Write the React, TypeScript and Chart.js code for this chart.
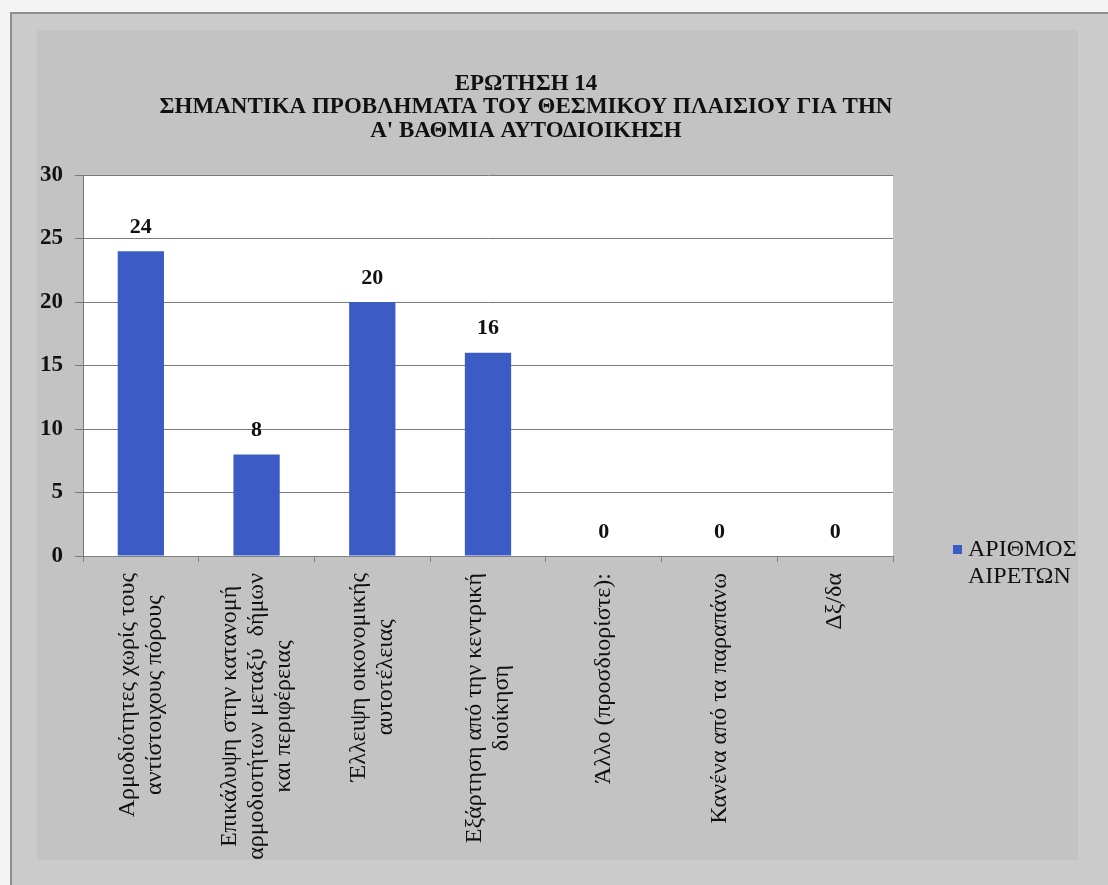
import React, { useEffect, useRef } from "react";
import { Chart, registerables } from "chart.js";

Chart.register(...registerables);

const titleLines = [
  "ΕΡΩΤΗΣΗ 14",
  "ΣΗΜΑΝΤΙΚΑ ΠΡΟΒΛΗΜΑΤΑ ΤΟΥ ΘΕΣΜΙΚΟΥ ΠΛΑΙΣΙΟΥ ΓΙΑ ΤΗΝ",
  "Α' ΒΑΘΜΙΑ ΑΥΤΟΔΙΟΙΚΗΣΗ",
];

const categories: string[][] = [
  ["Αρμοδιότητες χωρίς τους", "αντίστοιχους πόρους"],
  ["Επικάλυψη στην κατανομή", "αρμοδιοτήτων μεταξύ  δήμων", "και περιφέρειας"],
  ["Έλλειψη οικονομικής", "αυτοτέλειας"],
  ["Εξάρτηση από την κεντρική", "διοίκηση"],
  ["Άλλο (προσδιορίστε):"],
  ["Κανένα από τα παραπάνω"],
  ["Δξ/δα"],
];

const seriesNameLines = ["ΑΡΙΘΜΟΣ", "ΑΙΡΕΤΩΝ"];
const values = [24, 8, 20, 16, 0, 0, 0];

const yMin = 0;
const yMax = 30;
const yStep = 5;

const W = 1108;
const H = 885;
const FONT = "'Liberation Serif', 'Times New Roman', serif";
const BAR_COLOR = "#3b5cc5";

const backgroundPlugin = {
  id: "bg",
  beforeDraw(chart: any) {
    const { ctx, chartArea } = chart;
    ctx.save();
    ctx.fillStyle = "#f4f4f4";
    ctx.fillRect(0, 0, W, H);
    ctx.fillStyle = "#cbcbcb";
    ctx.fillRect(11, 13, W - 11, H - 13);
    ctx.fillStyle = "#c3c3c3";
    ctx.fillRect(37, 30, 1078 - 37, 860 - 30);
    ctx.strokeStyle = "#8e8e8e";
    ctx.lineWidth = 2;
    ctx.beginPath();
    ctx.moveTo(11, H);
    ctx.lineTo(11, 13);
    ctx.lineTo(W, 13);
    ctx.stroke();
    ctx.fillStyle = "#ffffff";
    ctx.fillRect(
      chartArea.left,
      chartArea.top,
      chartArea.right - chartArea.left,
      chartArea.bottom - chartArea.top
    );
    ctx.restore();
  },
};

const titlePlugin = {
  id: "customTitle",
  afterDraw(chart: any) {
    const { ctx } = chart;
    ctx.save();
    ctx.font = `bold 23px ${FONT}`;
    ctx.fillStyle = "#111";
    ctx.textAlign = "center";
    ctx.textBaseline = "middle";
    titleLines.forEach((line, j) => {
      ctx.fillText(line, 526, 84 + j * 23.5);
    });
    ctx.restore();
  },
};

const valueLabelPlugin = {
  id: "valueLabels",
  afterDatasetsDraw(chart: any) {
    const { ctx } = chart;
    const meta = chart.getDatasetMeta(0);
    ctx.save();
    ctx.font = `bold 22px ${FONT}`;
    ctx.fillStyle = "#111";
    ctx.textAlign = "center";
    ctx.textBaseline = "middle";
    meta.data.forEach((bar: any, i: number) => {
      ctx.fillText(String(values[i]), bar.x, bar.y - 24);
    });
    ctx.restore();
  },
};

const xLabelPlugin = {
  id: "xLabels",
  afterDraw(chart: any) {
    const { ctx, chartArea } = chart;
    const xScale = chart.scales.x;
    const lineH = 27;
    ctx.save();
    ctx.font = `24px ${FONT}`;
    ctx.fillStyle = "#111";
    ctx.textAlign = "center";
    ctx.textBaseline = "middle";
    categories.forEach((lines, i) => {
      const cx = xScale.getPixelForValue(i);
      const top = chartArea.bottom + 17;
      const maxW = Math.max(...lines.map((l) => ctx.measureText(l).width));
      ctx.save();
      ctx.translate(cx, top);
      ctx.rotate(-Math.PI / 2);
      lines.forEach((line, j) => {
        const v = (j - (lines.length - 1) / 2) * lineH;
        ctx.fillText(line, -maxW / 2, v);
      });
      ctx.restore();
    });
    ctx.restore();
  },
};

const legendPlugin = {
  id: "customLegend",
  afterDraw(chart: any) {
    const { ctx } = chart;
    ctx.save();
    ctx.fillStyle = BAR_COLOR;
    ctx.fillRect(953, 545, 9, 9);
    ctx.font = `24px ${FONT}`;
    ctx.fillStyle = "#111";
    ctx.textAlign = "left";
    ctx.textBaseline = "middle";
    seriesNameLines.forEach((line, j) => {
      ctx.fillText(line, 968, 550 + j * 27);
    });
    ctx.restore();
  },
};

export default function App() {
  const ref = useRef<HTMLCanvasElement | null>(null);

  useEffect(() => {
    if (!ref.current) return;
    const chart = new Chart(ref.current, {
      type: "bar",
      data: {
        labels: categories,
        datasets: [
          {
            label: seriesNameLines.join(" "),
            data: values,
            backgroundColor: BAR_COLOR,
            barPercentage: 0.8,
            categoryPercentage: 0.5,
          },
        ],
      },
      options: {
        animation: false,
        responsive: false,
        layout: { padding: { left: 12, right: 215, top: 175, bottom: 0 } },
        plugins: {
          legend: { display: false },
          tooltip: { enabled: false },
          title: { display: false },
        },
        scales: {
          x: {
            grid: {
              drawOnChartArea: false,
              drawTicks: true,
              tickLength: 6,
              color: "#808080",
              offset: true,
            },
            border: { display: true, color: "#808080" },
            ticks: { display: false },
            afterFit(scale: any) {
              scale.height = H - 556;
            },
          },
          y: {
            min: yMin,
            max: yMax,
            ticks: {
              stepSize: yStep,
              color: "#111",
              font: { family: FONT, size: 23, weight: "bold" },
              padding: 12,
            },
            grid: { color: "#7a7a7a", tickLength: 8, lineWidth: 1 },
            border: { display: true, color: "#7a7a7a" },
            afterFit(scale: any) {
              scale.width = 83 - 12;
            },
          },
        },
      },
      plugins: [backgroundPlugin, valueLabelPlugin, xLabelPlugin, legendPlugin, titlePlugin],
    });
    return () => chart.destroy();
  }, []);

  return (
    <div style={{ position: "absolute", left: 0, top: 0, width: W, height: H }}>
      <canvas ref={ref} width={W} height={H} style={{ display: "block" }} />
    </div>
  );
}
